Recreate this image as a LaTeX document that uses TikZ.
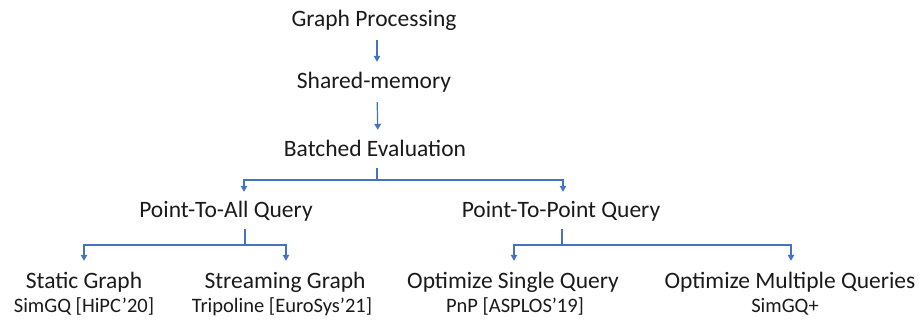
\documentclass[tikz,border=0pt]{standalone}
\usepackage{fontspec}
\setmainfont{Carlito}
\usetikzlibrary{arrows.meta}
\definecolor{lblue}{HTML}{4472C4}
\definecolor{txt}{HTML}{1A1A1A}
\begin{document}
\begin{tikzpicture}[x=1pt,y=-1pt,
  maintxt/.style={anchor=base,inner sep=0pt,text height=16pt,text depth=5pt,text=txt,font=\fontsize{23.5}{28}\selectfont},
  subtxt/.style={anchor=base,inner sep=0pt,text height=14pt,text depth=4pt,text=txt,font=\fontsize{20.5}{24}\selectfont},
  conn/.style={draw=lblue,line width=1.2pt},
  arr/.style={conn,-{Triangle[width=6.5pt,length=6pt]}}]
\useasboundingbox (0,0) rectangle (922,320);
% nodes
\node[maintxt] (gp)  at (374,27)  {Graph Processing};
\node[maintxt] (sm)  at (374,89)  {Shared-memory};
\node[maintxt] (be)  at (375,157) {Batched Evaluation};
\node[maintxt] (pta) at (226,218) {Point-To-All Query};
\node[maintxt] (ptp) at (561,218) {Point-To-Point Query};
\node[maintxt] (sg)  at (84,289)  {Static Graph};
\node[maintxt] (stg) at (285,289) {Streaming Graph};
\node[maintxt] (osq) at (513,289) {Optimize Single Query};
\node[maintxt] (omq) at (790,289) {Optimize Multiple Queries};
\node[subtxt] (sgr)  at (84,313)  {SimGQ [HiPC’20]};
\node[subtxt] (stgr) at (282,313) {Tripoline [EuroSys’21]};
\node[subtxt] (osqr) at (515,313) {PnP [ASPLOS’19]};
\node[subtxt] (omqr) at (785,313) {SimGQ+};
% junctions
\coordinate (j1) at (377,180);
\coordinate (j2) at (245,245);
\coordinate (j3) at (562,245);
% vertical arrows
\draw[arr,shorten <=8pt,shorten >=11pt] ([xshift=3pt]gp.south) -- ([xshift=3pt]sm.north);
\draw[arr,shorten <=8pt,shorten >=11pt] ([xshift=3pt]sm.south) -- ([xshift=3pt]be.north);
% level 1
\draw[conn,shorten <=6pt] ([xshift=2pt]be.south) -- (j1);
\draw[arr,shorten >=10pt] (j1) -| ([xshift=18pt]pta.north);
\draw[arr,shorten >=10pt] (j1) -| ([xshift=2pt]ptp.north);
% level 2
\draw[conn,shorten <=6pt] ([xshift=19pt]pta.south) -- (j2);
\draw[arr,shorten >=12pt] (j2) -| (sg.north);
\draw[arr,shorten >=12pt] (j2) -| ([xshift=1pt]stg.north);
\draw[conn,shorten <=6pt] ([xshift=1pt]ptp.south) -- (j3);
\draw[arr,shorten >=12pt] (j3) -| ([xshift=1pt]osq.north);
\draw[arr,shorten >=12pt] (j3) -| ([xshift=1pt]omq.north);
\end{tikzpicture}
\end{document}
